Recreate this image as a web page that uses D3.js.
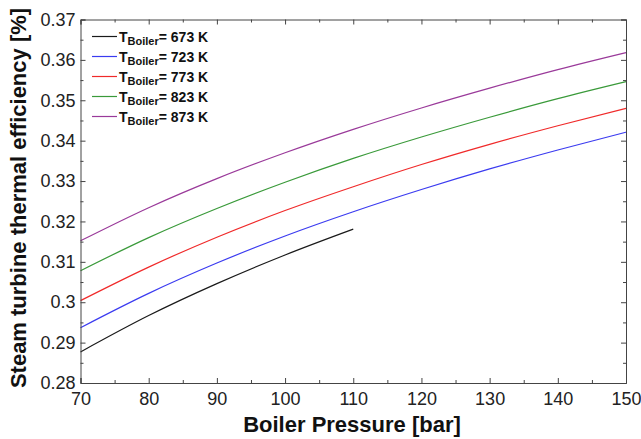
<!DOCTYPE html>
<html>
<head>
<meta charset="utf-8">
<script src="https://cdn.jsdelivr.net/npm/d3@7"></script>
<style>
    body { margin: 0; background: #fff; }
    text { font-family: "Liberation Sans", Arial, sans-serif; }
</style>
</head>
<body>
<script>
// boiler pressure [bar]
const pressure = [70, 80, 90, 100, 110, 120, 130, 140, 150];

// efficiency for each boiler temperature
const eff673 = [0.2877, 0.2967, 0.3046, 0.3117, 0.3181];
const eff723 = [0.2937, 0.3022, 0.3097, 0.3164, 0.3224, 0.3279, 0.3330, 0.3377, 0.3421];
const eff773 = [0.3004, 0.3087, 0.3161, 0.3227, 0.3286, 0.3341, 0.3391, 0.3437, 0.3480];
const eff823 = [0.3078, 0.3160, 0.3232, 0.3297, 0.3356, 0.3409, 0.3458, 0.3504, 0.3546];
const eff873 = [0.3152, 0.3234, 0.3306, 0.3370, 0.3428, 0.3481, 0.3530, 0.3576, 0.3618];

const temps = [673, 723, 773, 823, 873];
const colors = ["#1a1a1a", "#3b3bf0", "#f02a2a", "#3a9a3a", "#9a3a9a"];

const xTicks = [70, 80, 90, 100, 110, 120, 130, 140, 150];
const xMinor = [75, 85, 95, 105, 115, 125, 135, 145];
const yTicks = [0.28, 0.29, 0.30, 0.31, 0.32, 0.33, 0.34, 0.35, 0.36, 0.37];
const yMinor = [0.285, 0.295, 0.305, 0.315, 0.325, 0.335, 0.345, 0.355, 0.365];

const W = 641, H = 439;
const m = { l: 80.5, r: 626, t: 19.5, b: 383 };

const svg = d3.select("body").append("svg")
    .attr("width", W)
    .attr("height", H);

const x = d3.scaleLinear().domain([70, 150]).range([m.l, m.r]);
const y = d3.scaleLinear().domain([0.28, 0.37]).range([m.b, m.t]);

const series = [eff673, eff723, eff773, eff823, eff873].map((vals, i) => ({
    temp: temps[i],
    color: colors[i],
    pts: vals.map((v, j) => [pressure[j], v])
}));

const line = d3.line()
    .x(d => x(d[0]))
    .y(d => y(d[1]))
    .curve(d3.curveMonotoneX);

svg.append("g")
    .selectAll("path")
    .data(series)
    .join("path")
    .attr("d", d => line(d.pts))
    .attr("fill", "none")
    .attr("stroke", d => d.color)
    .attr("stroke-width", 1.2);

// axes, ticks pointing inward
const fmt = v => String(+v.toFixed(2));

const styleAxis = (g, hideDomain) => {
    g.selectAll("line").attr("stroke", "#444");
    g.selectAll("text").attr("fill", "#222").style("font-size", "18px");
    if (hideDomain) g.select(".domain").remove();
    else g.select(".domain").attr("stroke", "#444");
};

svg.append("g")
    .attr("transform", `translate(0,${m.b})`)
    .call(d3.axisBottom(x).tickValues(xTicks).tickSize(-5).tickPadding(9).tickFormat(fmt))
    .call(g => styleAxis(g, false));
svg.append("g")
    .attr("transform", `translate(0,${m.b})`)
    .call(d3.axisBottom(x).tickValues(xMinor).tickSize(-3).tickFormat(""))
    .call(g => styleAxis(g, true));
svg.append("g")
    .attr("transform", `translate(0,${m.t})`)
    .call(d3.axisTop(x).tickValues(xTicks).tickSize(-5).tickFormat(""))
    .call(g => styleAxis(g, false));
svg.append("g")
    .attr("transform", `translate(0,${m.t})`)
    .call(d3.axisTop(x).tickValues(xMinor).tickSize(-3).tickFormat(""))
    .call(g => styleAxis(g, true));

svg.append("g")
    .attr("transform", `translate(${m.l},0)`)
    .call(d3.axisLeft(y).tickValues(yTicks).tickSize(-5).tickPadding(5).tickFormat(fmt))
    .call(g => styleAxis(g, false));
svg.append("g")
    .attr("transform", `translate(${m.l},0)`)
    .call(d3.axisLeft(y).tickValues(yMinor).tickSize(-3).tickFormat(""))
    .call(g => styleAxis(g, true));
svg.append("g")
    .attr("transform", `translate(${m.r},0)`)
    .call(d3.axisRight(y).tickValues(yTicks).tickSize(-5).tickFormat(""))
    .call(g => styleAxis(g, false));
svg.append("g")
    .attr("transform", `translate(${m.r},0)`)
    .call(d3.axisRight(y).tickValues(yMinor).tickSize(-3).tickFormat(""))
    .call(g => styleAxis(g, true));

// axis titles
svg.append("text")
    .attr("x", 352)
    .attr("y", 432)
    .attr("text-anchor", "middle")
    .style("font-size", "22px")
    .style("font-weight", "bold")
    .attr("fill", "#111")
    .text("Boiler Pressure [bar]");

svg.append("text")
    .attr("transform", `translate(26,198) rotate(-90)`)
    .attr("text-anchor", "middle")
    .style("font-size", "22px")
    .style("font-weight", "bold")
    .attr("fill", "#111")
    .text("Steam turbine thermal efficiency [%]");

// legend
const legend = svg.append("g").attr("transform", "translate(92,36.5)");
series.forEach((s, i) => {
    const row = legend.append("g").attr("transform", `translate(0,${i * 20})`);
    row.append("line")
        .attr("x1", 0).attr("x2", 25)
        .attr("stroke", s.color)
        .attr("stroke-width", 1.2);
    const t = row.append("text")
        .attr("x", 27)
        .attr("y", 5.5)
        .attr("fill", "#111")
        .style("font-weight", "bold")
        .style("font-size", "14px");
    t.append("tspan").text("T");
    t.append("tspan").attr("dy", 3).style("font-size", "11px").text("Boiler");
    t.append("tspan").attr("dy", -3).text(`= ${s.temp} K`);
});
</script>
</body>
</html>
